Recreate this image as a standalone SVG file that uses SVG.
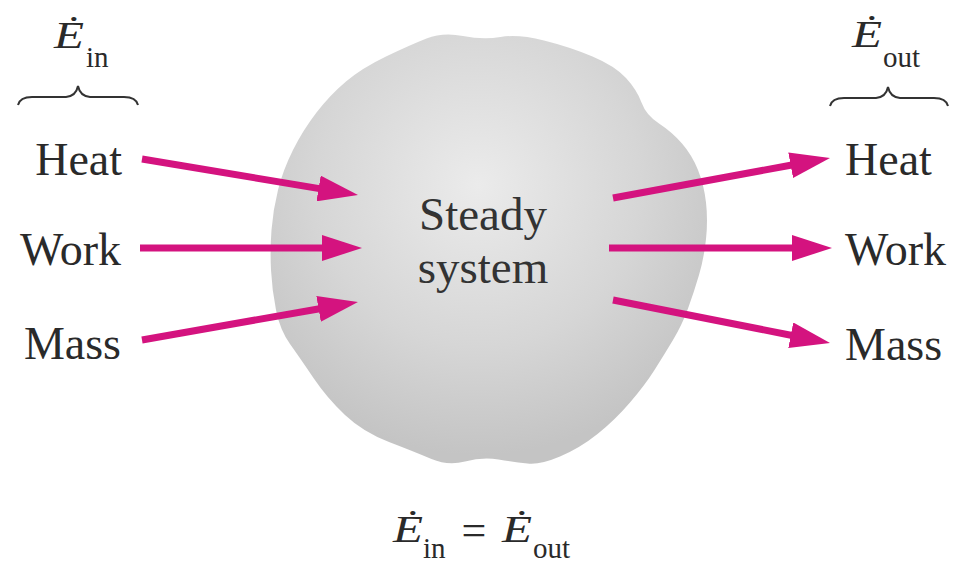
<svg xmlns="http://www.w3.org/2000/svg" width="953" height="564" viewBox="0 0 953 564">
<defs>
<radialGradient id="blobGrad" gradientUnits="userSpaceOnUse" cx="478" cy="185" r="270">
<stop offset="0" stop-color="#ebebeb"/>
<stop offset="0.6" stop-color="#d6d6d6"/>
<stop offset="1" stop-color="#c4c4c4"/>
</radialGradient>
<marker id="head" markerUnits="userSpaceOnUse" markerWidth="40" markerHeight="26" viewBox="0 -13 40 26" refX="4" refY="0" orient="auto">
<path d="M0,-13 L40,0 L0,13 Z" fill="#d4137f"/>
</marker>
</defs>
<style>
.lbl{font-family:"Liberation Serif","Times New Roman",serif;font-size:46px;fill:#2a2a2a}
.sys{font-family:"Liberation Serif","Times New Roman",serif;font-size:47px;fill:#333333}
.e{font-family:"Liberation Serif","Times New Roman",serif;font-size:37px;font-style:italic;fill:#2a2a2a}
.sub{font-family:"Liberation Serif","Times New Roman",serif;font-size:29px;fill:#2a2a2a}
.eq{font-family:"Liberation Serif","Times New Roman",serif;font-size:44px;fill:#2a2a2a}
.brace{fill:none;stroke:#333333;stroke-width:2}
.arrow{stroke:#d4137f;stroke-width:7;fill:none;marker-end:url(#head)}
</style>
<rect width="953" height="564" fill="#ffffff"/>
<g id="system">
<path fill="url(#blobGrad)" d="M426.5,38.5 Q443,32 463,36 Q483,40 500.5,37 Q518,34 544,40.5 Q570,47 592.5,56.5 Q615,66 626,78 Q637,90 641.5,102.5 Q646,115 659,123.5 Q672,132 682,143.5 Q692,155 698,170 Q704,185 706,202.5 Q708,220 706,239 Q704,258 699,275 Q694,292 688,308.5 Q682,325 673,340 Q664,355 654.5,370 Q645,385 630,402.5 Q615,420 597.5,434 Q580,448 560,456.5 Q540,465 527.5,463.5 Q515,462 498.5,459.5 Q482,457 465,461.5 Q448,466 431.5,459 Q415,452 389,442 Q363,432 345,415 Q327,398 313.5,378 Q300,358 290,344 Q280,330 276,310 Q272,290 271,270 Q270,250 271.5,230 Q273,210 278,190 Q283,170 293,150 Q303,130 316.5,112.5 Q330,95 346,81.5 Q362,68 386,56.5 Q410,45 426.5,38.5 Z"/>
<text class="sys" x="483" y="230" text-anchor="middle">Steady</text>
<text class="sys" x="483" y="283" text-anchor="middle">system</text>
</g>
<g id="in-labels">
<text class="lbl" x="122" y="175" text-anchor="end">Heat</text>
<text class="lbl" x="121" y="265" text-anchor="end">Work</text>
<text class="lbl" x="121" y="359" text-anchor="end">Mass</text>
</g>
<g id="out-labels">
<text class="lbl" x="845" y="175">Heat</text>
<text class="lbl" x="845" y="265">Work</text>
<text class="lbl" x="845" y="360">Mass</text>
</g>
<g id="e-in">
<text class="e" x="54" y="48" textLength="30" lengthAdjust="spacingAndGlyphs">Ė</text>
<text class="sub" x="86" y="67">in</text>
<path class="brace" d="M18,105 Q20,97 32,97 L66,97 Q76,96 78,86 Q80,96 90,97 L124,97 Q136,97 138,105"/>
</g>
<g id="e-out">
<text class="e" x="852" y="47" textLength="30" lengthAdjust="spacingAndGlyphs">Ė</text>
<text class="sub" x="883" y="67">out</text>
<path class="brace" d="M830,106 Q832,98 844,98 L876,98 Q886,97 888,87 Q890,97 900,98 L934,98 Q946,98 948,106"/>
</g>
<g id="connectors">
<line class="arrow" x1="142" y1="159" x2="322.5" y2="189.1"/>
<line class="arrow" x1="140" y1="248" x2="326" y2="248"/>
<line class="arrow" x1="142" y1="340" x2="322.5" y2="308.2"/>
<line class="arrow" x1="613" y1="198" x2="794.6" y2="164.5"/>
<line class="arrow" x1="609" y1="248" x2="796" y2="248"/>
<line class="arrow" x1="613" y1="300" x2="794.7" y2="336"/>
</g>
<g id="balance">
<text class="e" x="393" y="542" textLength="30" lengthAdjust="spacingAndGlyphs">Ė</text>
<text class="sub" x="423" y="558">in</text>
<text class="eq" x="474" y="545" text-anchor="middle">=</text>
<text class="e" x="502" y="542" textLength="30" lengthAdjust="spacingAndGlyphs">Ė</text>
<text class="sub" x="533" y="558">out</text>
</g>
</svg>
